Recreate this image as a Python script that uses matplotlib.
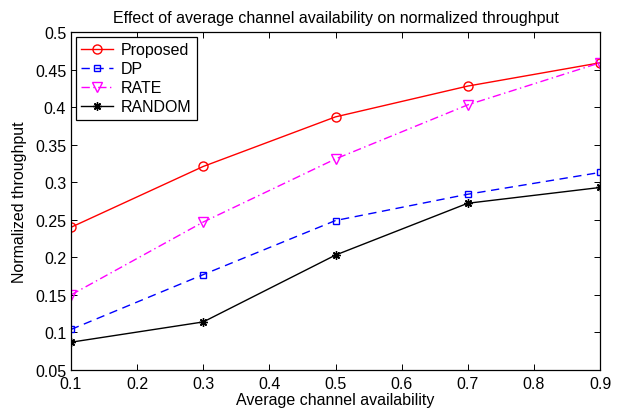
import matplotlib
matplotlib.use("Agg")
import matplotlib.pyplot as plt

plt.rcParams['font.family'] = ['Liberation Sans', 'DejaVu Sans']

x = [0.1, 0.3, 0.5, 0.7, 0.9]
proposed = [0.240, 0.321, 0.387, 0.428, 0.459]
dp = [0.104, 0.177, 0.249, 0.284, 0.313]
rate = [0.150, 0.247, 0.331, 0.403, 0.459]
random_ = [0.087, 0.114, 0.203, 0.272, 0.293]

xticks = [0.1, 0.2, 0.3, 0.4, 0.5, 0.6, 0.7, 0.8, 0.9]
yticks = [0.05, 0.1, 0.15, 0.2, 0.25, 0.3, 0.35, 0.4, 0.45, 0.5]

FS = 11.5
fig = plt.figure(figsize=(6.24, 4.14), dpi=100)
ax = fig.add_axes([71 / 624, 43 / 414, 529 / 624, 338 / 414])

ax.plot(x, proposed, color='red', linestyle='-', marker='o', markerfacecolor='none',
        markersize=6.5, linewidth=1, label='Proposed')
ax.plot(x, dp, color='blue', linestyle=(0, (6, 4)), marker='s', markerfacecolor='none',
        markersize=4.8, linewidth=1, label='DP')
ax.plot(x, rate, color='magenta', linestyle=(0, (6, 2.5, 1, 2.5)), marker='v',
        markerfacecolor='none', markersize=6.5, linewidth=1, label='RATE')
ax.plot(x, random_, color='black', linestyle='-', marker=(8, 2, 0), markersize=6,
        markeredgewidth=1, linewidth=1, label='RANDOM')

ax.set_xlim(0.1, 0.9)
ax.set_ylim(0.05, 0.5)
ax.set_xticks(xticks)
ax.set_xticklabels([f"{t:g}" for t in xticks])
ax.set_yticks(yticks)
ax.set_yticklabels([f"{t:g}" for t in yticks])
ax.tick_params(direction='in', top=True, right=True, labelsize=FS, length=4, width=0.7)
ax.tick_params(axis='x', pad=4)
ax.tick_params(axis='y', pad=3.5)
for s in ax.spines.values():
    s.set_linewidth(0.9)

ax.set_xlabel('Average channel availability', fontsize=FS, labelpad=1)
ax.set_ylabel('Normalized throughput', fontsize=FS, labelpad=6)
ax.set_title('Effect of average channel availability on normalized throughput', fontsize=FS, pad=7)

leg = ax.legend(loc='upper left', fontsize=FS, fancybox=False, edgecolor='black',
                framealpha=1, handlelength=2.0, borderpad=0.35, labelspacing=0.25,
                handletextpad=0.45, borderaxespad=0.3)
leg.get_frame().set_linewidth(0.9)

fig.savefig('out.png', dpi=100)
